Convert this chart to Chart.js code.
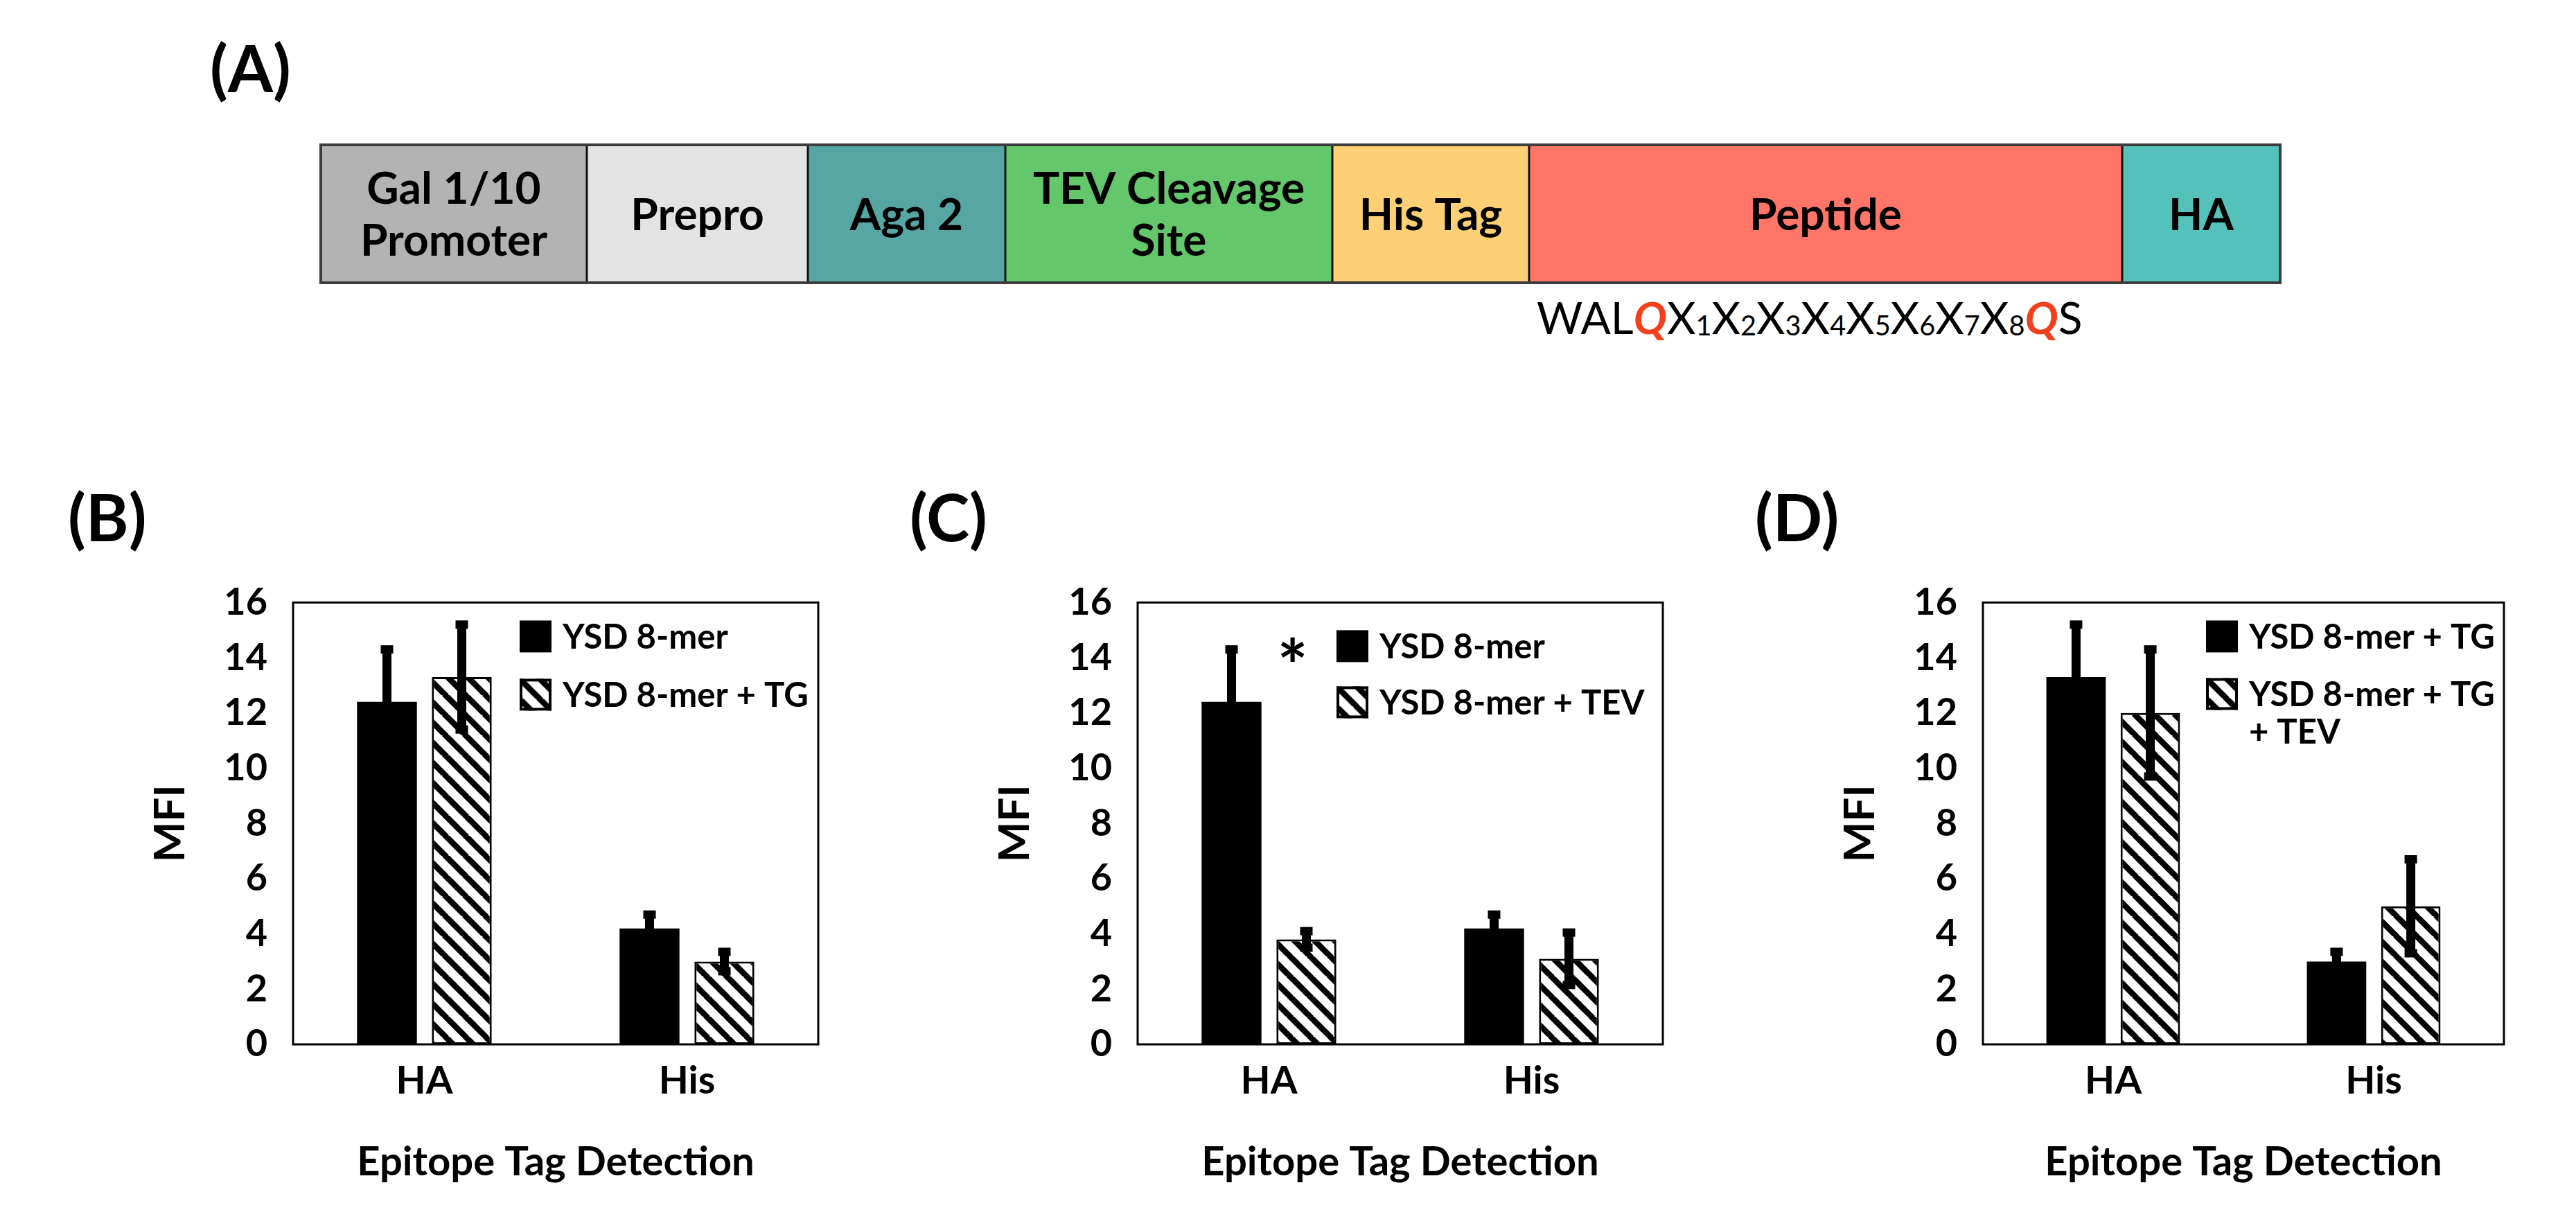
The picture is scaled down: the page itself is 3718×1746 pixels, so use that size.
<!DOCTYPE html>
<html><head><meta charset="utf-8">
<script src="https://cdn.jsdelivr.net/npm/chart.js@4.4.1/dist/chart.umd.min.js"></script>
<style>
html,body{margin:0;padding:0;background:#fff;}
body{width:3718px;height:1746px;position:relative;overflow:hidden;font-family:Lato,sans-serif;}
canvas{position:absolute;}
.plabel{position:absolute;font-family:Lato,sans-serif;font-weight:700;font-size:94px;line-height:1;white-space:nowrap;color:#000;}
.seq{position:absolute;font-family:Lato,sans-serif;font-size:64px;line-height:1;white-space:nowrap;color:#000;}
.seq .q{color:#f2401c;font-weight:700;font-style:italic;}
.seq sub{font-size:0.62em;vertical-align:-0.06em;line-height:0;}
</style></head><body>
<div class="plabel" style="left:303px;top:50px">(A)</div>
<div class="plabel" style="left:98px;top:698px">(B)</div>
<div class="plabel" style="left:1313px;top:698px">(C)</div>
<div class="plabel" style="left:2533px;top:698px">(D)</div>
<div class="seq" style="left:2218px;top:426px">WAL<span class="q">Q</span>X<sub>1</sub>X<sub>2</sub>X<sub>3</sub>X<sub>4</sub>X<sub>5</sub>X<sub>6</sub>X<sub>7</sub>X<sub>8</sub><span class="q">Q</span>S</div>
<canvas id="cA"></canvas>
<canvas id="cB"></canvas>
<canvas id="cC"></canvas>
<canvas id="cD"></canvas>
<script>
// ---------- data ----------
const constructParts = ['Gal 1/10\nPromoter', 'Prepro', 'Aga 2', 'TEV Cleavage\nSite', 'His Tag', 'Peptide', 'HA'];
const constructLengths = [384, 319, 285, 472, 284, 856, 228];
const constructColors = ['#b3b3b3', '#e3e3e3', '#56a6a4', '#64c76c', '#fed075', '#ff7668', '#54c2bb'];

const tagCategories = ['HA', 'His'];
const yTickMin = 0, yTickMax = 16, yTickStep = 2;

const ysd8mer = [12.4, 4.2];
const ysd8merErr = [1.9, 0.5];
const ysd8merTG = [13.3, 3.0];
const ysd8merTGErr = [1.9, 0.35];
const ysd8merTEV = [3.8, 3.1];
const ysd8merTEVErr = [0.3, 0.95];
const ysd8merTGTEV = [12.0, 5.0];
const ysd8merTGTEVErr = [2.3, 1.7];

const labelB = ['YSD 8-mer', 'YSD 8-mer + TG'];
const labelC = ['YSD 8-mer', 'YSD 8-mer + TEV'];
const labelD = ['YSD 8-mer + TG', 'YSD 8-mer + TG\n+ TEV'];
const xTitle = 'Epitope Tag Detection';
const yTitle = 'MFI';

// ---------- styles ----------
const FONT = 'Lato';
function hatchPattern() {
  const P = 29;
  const c = document.createElement('canvas');
  c.width = P; c.height = P;
  const g = c.getContext('2d');
  g.fillStyle = '#fff'; g.fillRect(0, 0, P, P);
  g.strokeStyle = '#000'; g.lineWidth = 8.5;
  g.beginPath();
  for (let k = -1; k <= 1; k++) { g.moveTo(k * P - 2, -2); g.lineTo(k * P + P + 2, P + 2); }
  g.stroke();
  return g.createPattern(c, 'repeat');
}
const HATCH = hatchPattern();

function capText(ctx, text, x, cy) {
  const m = ctx.measureText('H');
  ctx.textBaseline = 'alphabetic';
  ctx.fillText(text, x, cy + m.actualBoundingBoxAscent / 2);
}

// ---------- panel A : construct diagram ----------
const constructPlugin = {
  id: 'construct',
  afterDatasetsDraw(chart) {
    const ctx = chart.ctx, ca = chart.chartArea;
    ctx.save();
    ctx.strokeStyle = '#111'; ctx.lineWidth = 3;
    chart.data.datasets.forEach((ds, i) => {
      if (i === 0) return;
      const b = chart.getDatasetMeta(i).data[0].getProps(['base']);
      ctx.beginPath(); ctx.moveTo(b.base, ca.top); ctx.lineTo(b.base, ca.bottom); ctx.stroke();
    });
    ctx.strokeStyle = '#3d3d3d'; ctx.lineWidth = 4;
    ctx.strokeRect(ca.left, ca.top, ca.right - ca.left, ca.bottom - ca.top);
    ctx.fillStyle = '#000'; ctx.textAlign = 'center';
    ctx.font = 'bold 64px ' + FONT;
    chart.data.datasets.forEach((ds, i) => {
      const b = chart.getDatasetMeta(i).data[0].getProps(['x', 'y', 'base']);
      const cx = (b.x + b.base) / 2;
      const lines = ds.label.split('\n');
      const gap = 75;
      lines.forEach((ln, k) => capText(ctx, ln, cx, b.y + (k - (lines.length - 1) / 2) * gap));
    });
    ctx.restore();
  }
};

(function () {
  const c = document.getElementById('cA');
  const L = 440, T = 190, W = 2880, H = 240;
  c.style.left = L + 'px'; c.style.top = T + 'px';
  c.width = W; c.height = H; c.style.width = W + 'px'; c.style.height = H + 'px';
  const total = constructLengths.reduce((a, b) => a + b, 0);
  new Chart(c, {
    type: 'bar',
    data: {
      labels: [''],
      datasets: constructParts.map((n, i) => ({
        label: n, data: [constructLengths[i]], backgroundColor: constructColors[i], borderWidth: 0
      }))
    },
    options: {
      indexAxis: 'y', responsive: false, animation: false, devicePixelRatio: 1,
      layout: { padding: { left: 463 - L, right: L + W - 3291, top: 209 - T, bottom: T + H - 408 } },
      plugins: { legend: { display: false }, tooltip: { enabled: false } },
      datasets: { bar: { categoryPercentage: 1, barPercentage: 1 } },
      scales: {
        x: { display: false, stacked: true, min: 0, max: total },
        y: { display: false, stacked: true }
      }
    },
    plugins: [constructPlugin]
  });
})();

// ---------- panels B, C, D ----------
const decorPlugin = {
  id: 'decor',
  afterDatasetsDraw(chart, args, opts) {
    const ctx = chart.ctx, ca = chart.chartArea, ys = chart.scales.y;
    ctx.save();
    ctx.strokeStyle = '#000'; ctx.lineWidth = 3;
    ctx.strokeRect(ca.left, ca.top, ca.right - ca.left, ca.bottom - ca.top);
    ctx.fillStyle = '#000';
    chart.data.datasets.forEach((ds, i) => {
      chart.getDatasetMeta(i).data.forEach((bar, j) => {
        const v = ds.data[j], e = ds.errors[j];
        const hi = ys.getPixelForValue(v + e), lo = ys.getPixelForValue(v - e);
        ctx.fillRect(bar.x - 6.5, hi, 13, lo - hi);
        ctx.fillRect(bar.x - 9, hi - 6, 18, 12);
        ctx.fillRect(bar.x - 9, lo - 6, 18, 12);
      });
    });
    const S = 46;
    chart.data.datasets.forEach((ds, i) => {
      const sx = ca.left + opts.legendX, sy = ca.top + opts.legendY[i];
      ctx.save();
      ctx.translate(sx, sy);
      ctx.fillStyle = ds.backgroundColor;
      ctx.fillRect(0, 0, S, S);
      if (ds.borderWidth) { ctx.strokeStyle = '#000'; ctx.lineWidth = 4; ctx.strokeRect(2, 2, S - 4, S - 4); }
      ctx.restore();
      ctx.fillStyle = '#000'; ctx.textAlign = 'left';
      ctx.font = 'bold 49px ' + FONT;
      ds.label.split('\n').forEach((ln, k) => capText(ctx, ln, sx + 62, sy + S / 2 + k * 54));
    });
    if (opts.star) {
      const b = chart.getDatasetMeta(opts.star.dataset).data[opts.star.index];
      ctx.font = 'bold 104px ' + FONT; ctx.textAlign = 'center'; ctx.textBaseline = 'alphabetic';
      const m = ctx.measureText('*');
      const cy = ys.getPixelForValue(opts.star.value);
      ctx.fillText('*', b.x + opts.star.dx, cy + (m.actualBoundingBoxAscent - m.actualBoundingBoxDescent) / 2);
    }
    ctx.restore();
  }
};

const TOP = 800, PT = 846, PB = 1507, BOTTOM = 1746, YW = 273;
function makePanel(id, plotLeft, plotRight, series, labels, decor) {
  const c = document.getElementById(id);
  const L = plotLeft - YW, W = plotRight + 20 - L, H = BOTTOM - TOP;
  c.style.left = L + 'px'; c.style.top = TOP + 'px';
  c.width = W; c.height = H; c.style.width = W + 'px'; c.style.height = H + 'px';
  new Chart(c, {
    type: 'bar',
    data: {
      labels: tagCategories,
      datasets: [
        { label: labels[0], data: series[0][0], errors: series[0][1], backgroundColor: '#000', borderWidth: 0 },
        { label: labels[1], data: series[1][0], errors: series[1][1], backgroundColor: HATCH, borderColor: '#000', borderWidth: 3, borderSkipped: false }
      ]
    },
    options: {
      responsive: false, animation: false, devicePixelRatio: 1,
      layout: { padding: { top: PT - TOP, right: 20, bottom: 0, left: 0 } },
      datasets: { bar: { categoryPercentage: 0.57, barPercentage: 0.8 } },
      plugins: { legend: { display: false }, tooltip: { enabled: false }, decor: decor },
      scales: {
        x: {
          grid: { display: false, drawTicks: false }, border: { display: false },
          ticks: { font: { family: FONT, weight: 'bold', size: 56 }, color: '#000', padding: 19 },
          title: { display: true, text: xTitle, color: '#000', font: { family: FONT, weight: 'bold', size: 58 }, padding: { top: 0, bottom: 34 } },
          afterFit(s) { s.height = BOTTOM - PB; }
        },
        y: {
          min: yTickMin, max: yTickMax,
          grid: { display: false, drawTicks: false }, border: { display: false },
          ticks: { stepSize: yTickStep, autoSkip: false, font: { family: FONT, weight: 'bold', size: 54 }, color: '#000', padding: 37 },
          title: { display: true, text: yTitle, color: '#000', font: { family: FONT, weight: 'bold', size: 62 }, padding: { top: 59, bottom: 0 } },
          afterFit(s) { s.width = YW; }
        }
      }
    },
    plugins: [decorPlugin]
  });
}

makePanel('cB', 423, 1181, [[ysd8mer, ysd8merErr], [ysd8merTG, ysd8merTGErr]], labelB, { legendX: 327, legendY: [26, 110] });
makePanel('cC', 1642, 2400, [[ysd8mer, ysd8merErr], [ysd8merTEV, ysd8merTEVErr]], labelC, { legendX: 287, legendY: [40, 121], star: { dataset: 1, index: 0, dx: -20, value: 14.3 } });
makePanel('cD', 2862, 3614, [[ysd8merTG, ysd8merTGErr], [ysd8merTGTEV, ysd8merTGTEVErr]], labelD, { legendX: 322, legendY: [26, 109] });
</script>
</body></html>
